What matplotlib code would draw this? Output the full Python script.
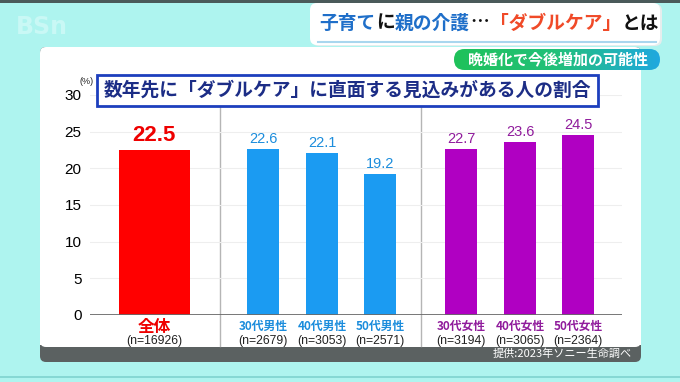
import matplotlib
matplotlib.use("Agg")
import matplotlib.pyplot as plt
from matplotlib.patches import FancyBboxPatch, Rectangle
from matplotlib.colors import LinearSegmentedColormap
import numpy as np

plt.rcParams['font.family'] = ['Noto Sans CJK JP', 'DejaVu Sans']

# ---- data ----
categories = ["全体", "30代男性", "40代男性", "50代男性", "30代女性", "40代女性", "50代女性"]
sample_sizes = ["(n=16926)", "(n=2679)", "(n=3053)", "(n=2571)", "(n=3194)", "(n=3065)", "(n=2364)"]
values = [22.5, 22.6, 22.1, 19.2, 22.7, 23.6, 24.5]
groups = ["total", "male", "male", "male", "female", "female", "female"]
yticks = [0, 5, 10, 15, 20, 25, 30]
header_title = [("子育て", "#1f6fc9"), ("に", "#111111"), ("親の介護", "#1f6fc9"),
                ("…", "#111111"), ("「ダブルケア」", "#f04a28"), ("とは", "#111111")]
subtitle = "晩婚化で今後増加の可能性"
chart_title = "数年先に「ダブルケア」に直面する見込みがある人の割合"
source = "提供:2023年ソニー生命調べ"

# ---- style ----
W, H = 680, 382
bar_color = {"total": "#ff0000", "male": "#1b9bf2", "female": "#b000c2"}
text_color = {"total": "#ee0000", "male": "#1c8ddc", "female": "#901c9c"}
bar_px = [154, 263, 322, 380, 461, 520, 578]
bar_w = [71, 32, 32, 32, 32, 32, 32]
ax_left, ax_right, ax_top, ax_bottom = 90, 622, 95, 315

fig = plt.figure(figsize=(W / 100, H / 100), dpi=100)
fig.patch.set_facecolor("#aef4ef")

bg = fig.add_axes([0, 0, 1, 1])
bg.set_xlim(0, W)
bg.set_ylim(H, 0)
bg.axis("off")
bg.set_zorder(0)

# top dark strip, bottom line
bg.add_patch(Rectangle((0, 0), W, 2.5, color="#4a5a5a", lw=0))
bg.add_patch(Rectangle((0, 376), W, 1.5, color="#86d8d4", lw=0))

# logo
bg.text(16, 27, "BSn", fontsize=17, fontweight="bold", color="#c9f8f5",
        va="center", ha="left", family=["DejaVu Sans"])

# panel
bg.add_patch(FancyBboxPatch((40, 47), 601, 315, boxstyle="round,pad=0,rounding_size=6",
                            fc="#5b6161", ec="none"))
bg.add_patch(FancyBboxPatch((40, 47), 601, 300, boxstyle="round,pad=0,rounding_size=6",
                            fc="white", ec="none"))
bg.add_patch(Rectangle((40, 60), 601, 284.5, fc="white", ec="none"))
bg.text(632, 353.5, source, fontsize=8, color="white", ha="right", va="center")

# header box
bg.add_patch(FancyBboxPatch((312, 4), 350, 42, boxstyle="round,pad=0,rounding_size=7",
                            fc="#e6eded", ec="none"))
bg.add_patch(FancyBboxPatch((310, 3), 350, 42, boxstyle="round,pad=0,rounding_size=7",
                            fc="white", ec="none"))
bg.plot([318, 656], [41.5, 41.5], color="#a9d6ee", lw=1.5)

fig.canvas.draw()
renderer = fig.canvas.get_renderer()
x = 319
for seg, col in header_title:
    t = bg.text(x, 23, seg, fontsize=13.5, fontweight="bold", color=col,
                ha="left", va="center")
    ext = t.get_window_extent(renderer)
    x += ext.width + 0.5

# subtitle pill with gradient
pill = FancyBboxPatch((454, 49), 206, 21, boxstyle="round,pad=0,rounding_size=10.5",
                      fc="none", ec="none")
bg.add_patch(pill)
grad = np.linspace(0, 1, 256).reshape(1, -1)
cmap = LinearSegmentedColormap.from_list("g", ["#1fc25a", "#22c07a", "#1fa8e0"])
im = bg.imshow(grad, cmap=cmap, extent=(454, 660, 70, 49), aspect="auto", zorder=2)
im.set_clip_path(pill)
bg.set_xlim(0, W)
bg.set_ylim(H, 0)
bg.text(558, 59.5, subtitle, fontsize=10.8, fontweight="bold", color="white",
        ha="center", va="center", zorder=3)

# ---- chart ----
ax = fig.add_axes([ax_left / W, 1 - ax_bottom / H, (ax_right - ax_left) / W,
                   (ax_bottom - ax_top) / H])
ax.set_zorder(1)
ax.patch.set_alpha(0)
pos = [p - ax_left for p in bar_px]
ax.set_xlim(0, ax_right - ax_left)
ax.set_ylim(0, 30)
for s in ax.spines.values():
    s.set_visible(False)
ax.set_yticks(yticks)
ax.set_yticklabels([str(v) for v in yticks], fontsize=11, family=["Liberation Sans"])
ax.tick_params(axis="y", length=0, pad=6)
ax.set_xticks([])
ax.grid(axis="y", color="#eeeeee", lw=0.8)
ax.set_axisbelow(True)
ax.axhline(0, color="#6a6a6a", lw=2, zorder=3)

ax.bar(pos, values, width=bar_w, color=[bar_color[g] for g in groups], zorder=2)
for p, v, g in zip(pos, values, groups):
    if g == "total":
        ax.text(p, v + 0.5, f"{v}", fontsize=16, fontweight="bold", color="#ee0000",
                ha="center", va="bottom", family=["Liberation Sans"])
    else:
        ax.text(p, v + 0.4, f"{v}", fontsize=10.5, color=text_color[g],
                ha="center", va="bottom", family=["Liberation Sans"])

# category labels
for bx, c, n, g in zip(bar_px, categories, sample_sizes, groups):
    if g == "total":
        bg.text(bx, 327, c, fontsize=12, fontweight="bold", color="#ee0000",
                ha="center", va="center")
    else:
        bg.text(bx, 326, c, fontsize=8.5, fontweight="bold", color=text_color[g],
                ha="center", va="center")
    bg.text(bx, 341, n, fontsize=8.8, color="#222222", ha="center", va="center",
            family=["Liberation Sans"])

# separators
for sx in [220, 421]:
    bg.plot([sx, sx], [106, 346], color="#b5b5b5", lw=1, zorder=1)

# (%)
bg.text(87, 81, "(%)", fontsize=6.5, color="#222222", ha="center", va="center",
        family=["Liberation Sans"])

# chart title box
title_ax = fig.add_axes([0, 0, 1, 1])
title_ax.set_xlim(0, W)
title_ax.set_ylim(H, 0)
title_ax.axis("off")
title_ax.set_zorder(2)
title_ax.add_patch(Rectangle((97, 75), 501, 31, fc="white", ec="#1d3fbd", lw=2))
title_ax.text(347.5, 90.5, chart_title, fontsize=13.5, fontweight="bold", color="#1c2d86",
              ha="center", va="center")

fig.savefig("out.png", dpi=100, facecolor=fig.get_facecolor())
